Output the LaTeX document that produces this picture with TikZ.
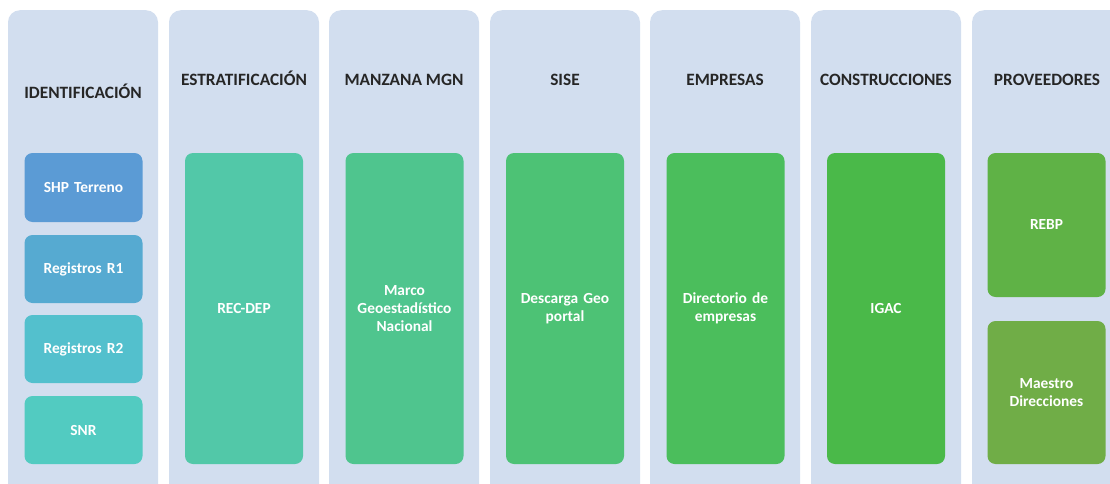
\documentclass[tikz,border=0pt]{standalone}
\usepackage{fontspec}
\setmainfont{Carlito}
\definecolor{colbg}{HTML}{D2DEEF}
\definecolor{ttext}{HTML}{262626}
\definecolor{cshp}{HTML}{5B9BD5}
\definecolor{cra}{HTML}{56AAD1}
\definecolor{crb}{HTML}{53C0CD}
\definecolor{csnr}{HTML}{52CBC1}
\definecolor{crec}{HTML}{52C8A8}
\definecolor{cmarco}{HTML}{4FC58E}
\definecolor{cdesc}{HTML}{4DC275}
\definecolor{cdir}{HTML}{4BBE5C}
\definecolor{cigac}{HTML}{4AB949}
\definecolor{crebp}{HTML}{5FB246}
\definecolor{cmae}{HTML}{70AD47}
\begin{document}
\begin{tikzpicture}[x=1pt,y=-1pt,
  colbox/.style={fill=colbg, draw=none, rounded corners=12pt, minimum width=150pt, minimum height=500pt, anchor=north, inner sep=0pt},
  coltitle/.style={anchor=base, font=\fontsize{17.3}{20}\selectfont\bfseries, text=ttext, inner sep=0pt},
  inbox/.style={draw=none, rounded corners=8pt, minimum width=118pt, text width=114pt, align=center, inner sep=0pt, text=white, font=\fontsize{15.4}{18.3}\selectfont\bfseries}]
\useasboundingbox (0,0) rectangle (1110,484);
\clip (0,0) rectangle (1110,484);
% columns
\node[colbox] (c1) at (83,10) {};
\node[colbox] (c2) at (244,10) {};
\node[colbox] (c3) at (404,10) {};
\node[colbox] (c4) at (565,10) {};
\node[colbox] (c5) at (725,10) {};
\node[colbox] (c6) at (886,10) {};
\node[colbox] (c7) at (1047,10) {};
% titles
\node[coltitle] (t1) at (83,99) {IDENTIFICACIÓN};
\node[coltitle] (t2) at (244,86) {ESTRATIFICACIÓN};
\node[coltitle] (t3) at (404,86) {MANZANA MGN};
\node[coltitle] (t4) at (565,86) {SISE};
\node[coltitle] (t5) at (725,86) {EMPRESAS};
\node[coltitle] (t6) at (886,86) {CONSTRUCCIONES};
\node[coltitle] (t7) at (1047,86) {PROVEEDORES};
% identificacion
\node[inbox, fill=cshp, minimum height=69pt] (shp) at (83.5,187.5) {SHP Terreno};
\node[inbox, fill=cra, minimum height=68pt] (r1) at (83.5,269) {Registros R1};
\node[inbox, fill=crb, minimum height=68pt] (r2) at (83.5,349) {Registros R2};
\node[inbox, fill=csnr, minimum height=68pt] (snr) at (83.5,430) {SNR};
% big boxes
\node[inbox, fill=crec, minimum height=311pt] (rec) at (244,308.5) {REC-DEP};
\node[inbox, fill=cmarco, minimum height=311pt] (marco) at (404.5,308.5) {Marco\\Geoestadístico\\Nacional};
\node[inbox, fill=cdesc, minimum height=311pt] (desc) at (565,308.5) {Descarga Geo\\portal};
\node[inbox, fill=cdir, minimum height=311pt] (dir) at (725.5,308.5) {Directorio de\\empresas};
\node[inbox, fill=cigac, minimum height=311pt] (igac) at (886,308.5) {IGAC};
% proveedores
\node[inbox, fill=crebp, minimum height=144pt] (rebp) at (1046.5,225) {REBP};
\node[inbox, fill=cmae, minimum height=143pt] (mae) at (1046.5,392.5) {Maestro\\Direcciones};
\end{tikzpicture}
\end{document}
